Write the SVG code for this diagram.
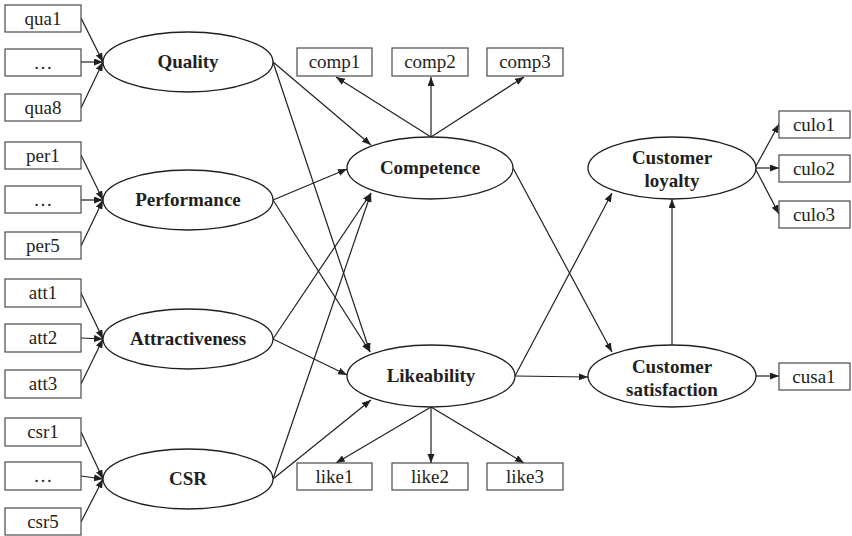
<svg xmlns="http://www.w3.org/2000/svg" width="852" height="536" viewBox="0 0 852 536">
<style>
.box{fill:#fff;stroke:#4a4a4a;stroke-width:1.2}
.ell{fill:#fff;stroke:#231f20;stroke-width:1.3}
.bt{font-family:"Liberation Serif","Times New Roman",serif;font-size:19px;fill:#231f20;text-anchor:middle}
.et{font-family:"Liberation Serif","Times New Roman",serif;font-size:19px;font-weight:bold;fill:#231f20;text-anchor:middle}
.c{stroke:#231f20;stroke-width:1.2;fill:none;marker-end:url(#ah)}
</style>
<defs>
<marker id="ah" markerUnits="userSpaceOnUse" markerWidth="10" markerHeight="8" refX="9" refY="3.5" orient="auto">
<path d="M0,0 L9,3.5 L0,7 z" fill="#231f20"/>
</marker>
</defs>
<rect width="852" height="536" fill="#fff"/>
<g id="connectors">
<line class="c" x1="81" y1="18" x2="103" y2="62"/>
<line class="c" x1="81" y1="62" x2="103" y2="62"/>
<line class="c" x1="81" y1="108" x2="103" y2="62"/>
<line class="c" x1="81" y1="155" x2="103" y2="200"/>
<line class="c" x1="81" y1="200" x2="103" y2="200"/>
<line class="c" x1="81" y1="246" x2="103" y2="200"/>
<line class="c" x1="81" y1="293" x2="103" y2="339"/>
<line class="c" x1="81" y1="338" x2="103" y2="339"/>
<line class="c" x1="81" y1="384" x2="103" y2="339"/>
<line class="c" x1="81" y1="432" x2="103" y2="479"/>
<line class="c" x1="81" y1="476" x2="103" y2="479"/>
<line class="c" x1="81" y1="522" x2="103" y2="479"/>
<line class="c" x1="273" y1="62" x2="371" y2="145"/>
<line class="c" x1="273" y1="62" x2="370" y2="352"/>
<line class="c" x1="273" y1="200" x2="347" y2="169"/>
<line class="c" x1="273" y1="200" x2="370" y2="352"/>
<line class="c" x1="273" y1="339" x2="371" y2="193"/>
<line class="c" x1="273" y1="339" x2="347" y2="375"/>
<line class="c" x1="273" y1="479" x2="371" y2="193"/>
<line class="c" x1="273" y1="479" x2="371" y2="400"/>
<line class="c" x1="513" y1="168" x2="612" y2="352"/>
<line class="c" x1="515" y1="376" x2="612" y2="193"/>
<line class="c" x1="515" y1="376" x2="588" y2="377"/>
<line class="c" x1="672" y1="345" x2="672" y2="199"/>
<line class="c" x1="431" y1="137" x2="336" y2="77"/>
<line class="c" x1="431" y1="137" x2="431" y2="77"/>
<line class="c" x1="431" y1="137" x2="524" y2="77"/>
<line class="c" x1="431" y1="407" x2="336" y2="463"/>
<line class="c" x1="431" y1="407" x2="431" y2="463"/>
<line class="c" x1="431" y1="407" x2="524" y2="463"/>
<line class="c" x1="755" y1="168" x2="779" y2="124"/>
<line class="c" x1="755" y1="168" x2="779" y2="168"/>
<line class="c" x1="755" y1="168" x2="779" y2="214"/>
<line class="c" x1="755" y1="376" x2="779" y2="376"/>
</g>
<g id="qua1"><rect class="box" x="5" y="5" width="76" height="27"/><text class="bt" x="43" y="25">qua1</text></g>
<g id="qua_dots"><rect class="box" x="5" y="49" width="76" height="27"/><text class="bt" x="43" y="69">…</text></g>
<g id="qua8"><rect class="box" x="5" y="94" width="76" height="27"/><text class="bt" x="43" y="114">qua8</text></g>
<g id="per1"><rect class="box" x="5" y="142" width="76" height="27"/><text class="bt" x="43" y="162">per1</text></g>
<g id="per_dots"><rect class="box" x="5" y="186" width="76" height="27"/><text class="bt" x="43" y="206">…</text></g>
<g id="per5"><rect class="box" x="5" y="232" width="76" height="27"/><text class="bt" x="43" y="252">per5</text></g>
<g id="att1"><rect class="box" x="5" y="279" width="76" height="28"/><text class="bt" x="43" y="299">att1</text></g>
<g id="att2"><rect class="box" x="5" y="324" width="76" height="28"/><text class="bt" x="43" y="344">att2</text></g>
<g id="att3"><rect class="box" x="5" y="370" width="76" height="28"/><text class="bt" x="43" y="390">att3</text></g>
<g id="csr1"><rect class="box" x="5" y="418" width="76" height="28"/><text class="bt" x="43" y="438">csr1</text></g>
<g id="csr_dots"><rect class="box" x="5" y="462" width="76" height="28"/><text class="bt" x="43" y="482">…</text></g>
<g id="csr5"><rect class="box" x="5" y="508" width="76" height="27"/><text class="bt" x="43" y="528">csr5</text></g>
<g id="quality"><ellipse class="ell" cx="188" cy="62" rx="85" ry="30"/><text class="et" x="188" y="68">Quality</text></g>
<g id="performance"><ellipse class="ell" cx="188" cy="200" rx="85" ry="30"/><text class="et" x="188" y="206">Performance</text></g>
<g id="attractiveness"><ellipse class="ell" cx="188" cy="339" rx="85" ry="30"/><text class="et" x="188" y="345">Attractiveness</text></g>
<g id="csr"><ellipse class="ell" cx="188" cy="479" rx="85" ry="30"/><text class="et" x="188" y="485">CSR</text></g>
<g id="comp1"><rect class="box" x="297" y="48" width="75" height="28"/><text class="bt" x="334.5" y="68">comp1</text></g>
<g id="comp2"><rect class="box" x="392" y="48" width="76" height="28"/><text class="bt" x="430" y="68">comp2</text></g>
<g id="comp3"><rect class="box" x="487" y="48" width="76" height="28"/><text class="bt" x="525" y="68">comp3</text></g>
<g id="competence"><ellipse class="ell" cx="430" cy="168" rx="83" ry="31"/><text class="et" x="430" y="174">Competence</text></g>
<g id="likeability"><ellipse class="ell" cx="431" cy="376" rx="84" ry="31"/><text class="et" x="431" y="382">Likeability</text></g>
<g id="like1"><rect class="box" x="297" y="463" width="75" height="27"/><text class="bt" x="334.5" y="483">like1</text></g>
<g id="like2"><rect class="box" x="392" y="463" width="76" height="27"/><text class="bt" x="430" y="483">like2</text></g>
<g id="like3"><rect class="box" x="487" y="463" width="76" height="27"/><text class="bt" x="525" y="483">like3</text></g>
<g id="loyalty"><ellipse class="ell" cx="672" cy="168" rx="84" ry="31"/><text class="et" x="672" y="164">Customer</text><text class="et" x="672" y="187">loyalty</text></g>
<g id="satisfaction"><ellipse class="ell" cx="672" cy="376" rx="84" ry="31"/><text class="et" x="672" y="373">Customer</text><text class="et" x="672" y="396">satisfaction</text></g>
<g id="culo1"><rect class="box" x="779" y="111" width="71" height="27"/><text class="bt" x="814" y="131">culo1</text></g>
<g id="culo2"><rect class="box" x="779" y="155" width="71" height="27"/><text class="bt" x="814" y="175">culo2</text></g>
<g id="culo3"><rect class="box" x="779" y="201" width="71" height="27"/><text class="bt" x="814" y="221">culo3</text></g>
<g id="cusa1"><rect class="box" x="779" y="363" width="71" height="27"/><text class="bt" x="814" y="383">cusa1</text></g>
</svg>
